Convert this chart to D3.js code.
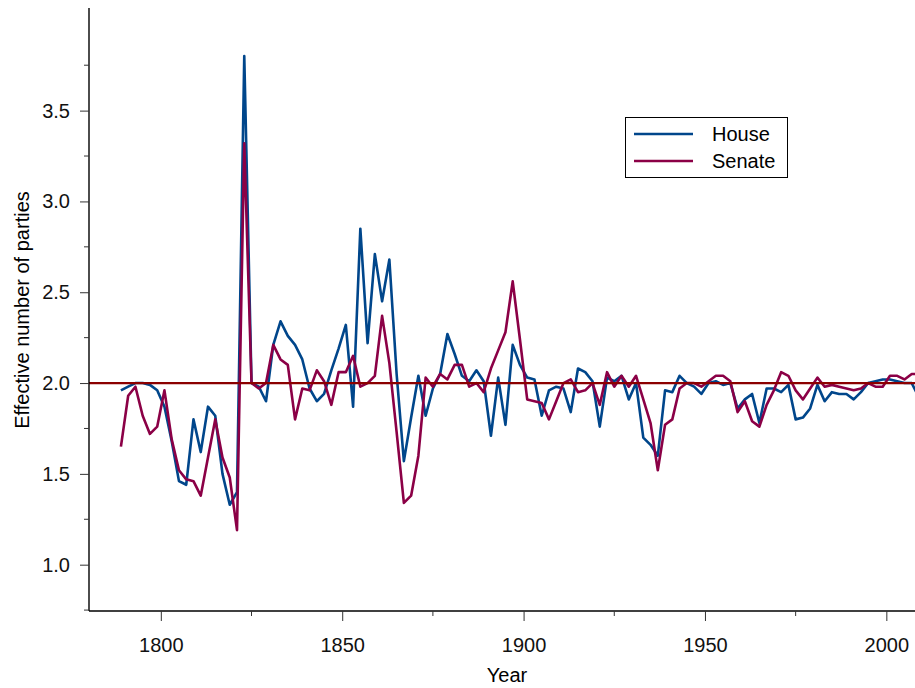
<!DOCTYPE html>
<html>
<head>
<meta charset="utf-8">
<script src="https://cdn.jsdelivr.net/npm/d3@7"></script>
<style>
  body { margin: 0; background: #fff; }
  svg text { font-family: "Liberation Sans", Arial, sans-serif; }
</style>
</head>
<body>
<svg id="chart"></svg>
<script>
// one Congress every two years, 1789 - 2009
const years = d3.range(1789, 2010, 2);

const house = [
  1.96, 1.98, 2.00, 2.00, 1.99, 1.96, 1.87, 1.68, 1.46, 1.44,
  1.80, 1.62, 1.87, 1.82, 1.50, 1.33, 1.40, 3.80, 2.00, 1.98,
  1.90, 2.21, 2.34, 2.26, 2.21, 2.13, 1.97, 1.90, 1.94, 2.07,
  2.19, 2.32, 1.87, 2.85, 2.22, 2.71, 2.45, 2.68, 2.05, 1.57,
  1.81, 2.04, 1.82, 1.97, 2.05, 2.27, 2.16, 2.04, 2.01, 2.07,
  2.01, 1.71, 2.03, 1.77, 2.21, 2.10, 2.03, 2.02, 1.82, 1.96,
  1.98, 1.97, 1.84, 2.08, 2.06, 2.01, 1.76, 2.03, 2.01, 2.04,
  1.91, 2.00, 1.70, 1.66, 1.60, 1.96, 1.95, 2.04, 2.00, 1.98,
  1.94, 2.00, 2.01, 1.99, 2.00, 1.86, 1.91, 1.94, 1.78, 1.97,
  1.97, 1.95, 1.99, 1.80, 1.81, 1.86, 1.99, 1.90, 1.95, 1.94,
  1.94, 1.91, 1.95, 2.00, 2.01, 2.02, 2.02, 2.01, 2.00, 2.00,
  1.92
];

const senate = [
  1.65, 1.93, 1.98, 1.82, 1.72, 1.76, 1.96, 1.69, 1.52, 1.47,
  1.46, 1.38, 1.59, 1.80, 1.59, 1.48, 1.19, 3.32, 2.00, 1.97,
  2.00, 2.21, 2.13, 2.10, 1.80, 1.97, 1.96, 2.07, 2.01, 1.88,
  2.06, 2.06, 2.15, 1.98, 2.00, 2.04, 2.37, 2.11, 1.73, 1.34,
  1.38, 1.60, 2.03, 1.98, 2.05, 2.02, 2.10, 2.10, 1.98, 2.00,
  1.95, 2.08, 2.18, 2.28, 2.56, 2.24, 1.91, 1.90, 1.89, 1.80,
  1.90, 2.00, 2.02, 1.95, 1.96, 2.00, 1.88, 2.06, 1.98, 2.04,
  1.98, 2.04, 1.91, 1.78, 1.52, 1.77, 1.80, 1.97, 2.00, 2.00,
  1.98, 2.01, 2.04, 2.04, 2.01, 1.84, 1.90, 1.79, 1.76, 1.88,
  1.96, 2.06, 2.04, 1.96, 1.91, 1.97, 2.03, 1.98, 1.99, 1.98,
  1.97, 1.96, 1.97, 2.00, 1.98, 1.98, 2.04, 2.04, 2.02, 2.05,
  2.05
];

const xMajor = [1800, 1850, 1900, 1950, 2000];
const xMinor = [1825, 1875, 1925, 1975];
const yMajor = [1.0, 1.5, 2.0, 2.5, 3.0, 3.5];
const yMinor = [0.75, 1.25, 1.75, 2.25, 2.75, 3.25, 3.75];
const seriesNames = ["House", "Senate"];
const seriesColors = ["#00468b", "#8b0046"];

document.addEventListener("DOMContentLoaded", function() {
    const width = 915;
    const height = 688;
    const left = 89, right = 915, top = 8, bottom = 611;

    const svg = d3.select("#chart")
        .attr("width", width)
        .attr("height", height);

    const x = d3.scaleLinear().domain([1780.2, 2007.9]).range([left, right]);
    const y = d3.scaleLinear().domain([0.745, 4.065]).range([bottom, top]);

    svg.append("clipPath").attr("id", "plot-clip")
        .append("rect")
        .attr("x", left).attr("y", top)
        .attr("width", right - left).attr("height", bottom - top);

    const line = d3.line()
        .x((d, i) => x(years[i]))
        .y(d => y(d));

    const plot = svg.append("g").attr("clip-path", "url(#plot-clip)");

    [house, senate].forEach((values, i) => {
        plot.append("path")
            .datum(values)
            .attr("d", line)
            .attr("fill", "none")
            .attr("stroke", seriesColors[i])
            .attr("stroke-width", 2.6)
            .attr("stroke-linejoin", "round");
    });

    // reference line at two parties
    plot.append("line")
        .attr("x1", left).attr("x2", right)
        .attr("y1", y(2)).attr("y2", y(2))
        .attr("stroke", "#8b0000")
        .attr("stroke-width", 2.2);

    // axes
    const xAxis = svg.append("g").attr("transform", `translate(0,${bottom})`);
    xAxis.call(d3.axisBottom(x).tickValues(xMajor).tickSize(10).tickPadding(17)
        .tickFormat(d3.format("d")));
    xAxis.call(g => g.selectAll(".minor").data(xMinor).join("line")
        .attr("class", "minor")
        .attr("x1", d => x(d)).attr("x2", d => x(d))
        .attr("y1", 0).attr("y2", 5)
        .attr("stroke", "#333"));

    const yAxis = svg.append("g").attr("transform", `translate(${left},0)`);
    yAxis.call(d3.axisLeft(y).tickValues(yMajor).tickSize(9).tickPadding(10)
        .tickFormat(d3.format(".1f")));
    yAxis.call(g => g.selectAll(".minor").data(yMinor).join("line")
        .attr("class", "minor")
        .attr("x1", -5).attr("x2", 0)
        .attr("y1", d => y(d)).attr("y2", d => y(d))
        .attr("stroke", "#333"));

    svg.selectAll(".domain")
        .attr("stroke", "#000")
        .attr("stroke-width", 1.4);
    xAxis.select(".domain").attr("d", `M${left},0H${right}`);
    yAxis.select(".domain").attr("d", `M0,${top}V${bottom}`);
    svg.selectAll(".tick line").attr("stroke", "#333");
    svg.selectAll(".tick text")
        .attr("font-size", 20)
        .attr("fill", "#111");

    svg.append("text")
        .attr("x", 507).attr("y", 682)
        .attr("text-anchor", "middle")
        .attr("font-size", 20)
        .text("Year");

    svg.append("text")
        .attr("transform", "translate(29,310) rotate(-90)")
        .attr("text-anchor", "middle")
        .attr("font-size", 20)
        .text("Effective number of parties");

    // legend
    const legend = svg.append("g");
    legend.append("rect")
        .attr("x", 625.5).attr("y", 117.5)
        .attr("width", 162).attr("height", 60)
        .attr("fill", "#fff")
        .attr("stroke", "#000")
        .attr("stroke-width", 1);

    seriesNames.forEach((name, i) => {
        const ly = 134 + i * 27;
        legend.append("line")
            .attr("x1", 634).attr("x2", 693)
            .attr("y1", ly).attr("y2", ly)
            .attr("stroke", seriesColors[i])
            .attr("stroke-width", 2.6);
        legend.append("text")
            .attr("x", 712).attr("y", ly)
            .attr("dy", "0.35em")
            .attr("font-size", 20)
            .text(name);
    });
});
</script>
</body>
</html>
